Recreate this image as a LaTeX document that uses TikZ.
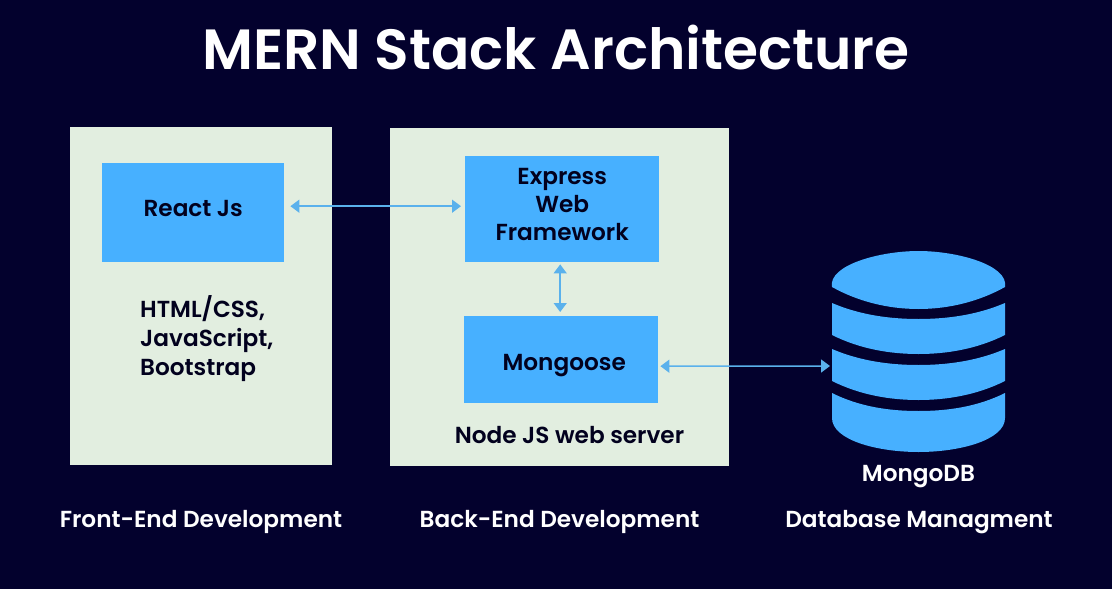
\documentclass[tikz,border=0pt]{standalone}
\usepackage{fontspec}
\setmainfont{Poppins}[UprightFont=* SemiBold,BoldFont=* SemiBold]
\usetikzlibrary{arrows.meta}
\definecolor{bgnavy}{HTML}{03012D}
\definecolor{panelgreen}{HTML}{E2EEE0}
\definecolor{boxblue}{HTML}{47B0FF}
\definecolor{arrowblue}{HTML}{5AB1EC}
\definecolor{inktext}{HTML}{02011E}
\tikzset{
  x=1pt,y=-1pt,
  panel/.style={fill=panelgreen,draw=none,anchor=north west,inner sep=0},
  bluebox/.style={fill=boxblue,draw=none,anchor=north west,inner sep=0,font=\fontsize{23.2}{28}\selectfont,text=inktext,align=center},
  darktext/.style={text=inktext,font=\fontsize{23.2}{29.3}\selectfont,inner sep=0},
  lighttext/.style={text=white,font=\fontsize{23.2}{28}\selectfont,inner sep=0},
  biarrow/.style={draw=arrowblue,line width=1.5pt,{Triangle[width=13pt,length=9pt]}-{Triangle[width=13pt,length=9pt]}},
  dbfill/.style={fill=boxblue,draw=none},
}
\begin{document}
\begin{tikzpicture}
\useasboundingbox (0,0) rectangle (1112,589);
\fill[bgnavy] (0,0) rectangle (1112,589);
\node[text=white,inner sep=0,font=\fontsize{56.7}{66}\selectfont\bfseries] (title) at (556,48) {MERN Stack Architecture};
% panels
\node[panel,minimum width=262pt,minimum height=338pt] (front) at (70,127) {};
\node[panel,minimum width=339pt,minimum height=338pt] (back) at (390,128) {};
% boxes
\node[bluebox,minimum width=182pt,minimum height=99pt] (react) at (102,163) {\raisebox{4pt}[\height][\depth]{React Js}};
\node[bluebox,minimum width=194pt,minimum height=106pt] (express) at (465,156) {\raisebox{5pt}[\height][\depth]{\parbox{190pt}{\centering Express\\Web\\Framework}}};
\node[bluebox,minimum width=194pt,minimum height=87pt] (mongoose) at (464,316) {\hspace*{6pt}\raisebox{-6pt}[\height][\depth]{Mongoose}};
% texts
\node[darktext,align=left,anchor=north west] (stack) at (140,295) {HTML/CSS,\\JavaScript,\\Bootstrap};
\node[darktext] (nodejs) at (569.5,435) {Node JS web server};
\node[lighttext] (mongodb) at (918.5,477) {MongoDB};
\node[lighttext] (frontlabel) at (201,522) {Front-End Development};
\node[lighttext] (backlabel) at (559.5,522) {Back-End Development};
\node[lighttext] (dblabel) at (919,522) {Database Managment};
% database
\fill[dbfill] (832,393) .. controls (860,407) and (890,411) .. (918.5,411) .. controls (947,411) and (977,407) .. (1005,393) -- (1005,418) .. controls (1005,440) and (960,452) .. (918.5,452) .. controls (877,452) and (832,440) .. (832,418) -- cycle;
\fill[dbfill] (832,349) .. controls (860,361) and (890,365) .. (918.5,365) .. controls (947,365) and (977,361) .. (1005,349) -- (1005,381) .. controls (977,395) and (947,400) .. (918.5,400) .. controls (890,400) and (860,395) .. (832,381) -- cycle;
\fill[dbfill] (832,303) .. controls (860,315) and (890,319) .. (918.5,319) .. controls (947,319) and (977,315) .. (1005,303) -- (1005,335) .. controls (977,349) and (947,354) .. (918.5,354) .. controls (890,354) and (860,349) .. (832,335) -- cycle;
\fill[dbfill] (832,287) .. controls (828,265) and (880,251) .. (918.5,251) .. controls (957,251) and (1009,265) .. (1005,287) .. controls (980,301) and (950,309) .. (918.5,309) .. controls (887,309) and (857,301) .. (832,287) -- cycle;
\coordinate (db) at (832,366);
% connectors
\draw[biarrow] ([shift={(6,-6.5)}]react.east) -- ([shift={(-4,-3)}]express.west);
\draw[biarrow] ([shift={(-2,2)}]express.south) -- ([shift={(-1,-4)}]mongoose.north);
\draw[biarrow] ([shift={(2,6.5)}]mongoose.east) -- ([xshift=-2pt]db);
\end{tikzpicture}
\end{document}
